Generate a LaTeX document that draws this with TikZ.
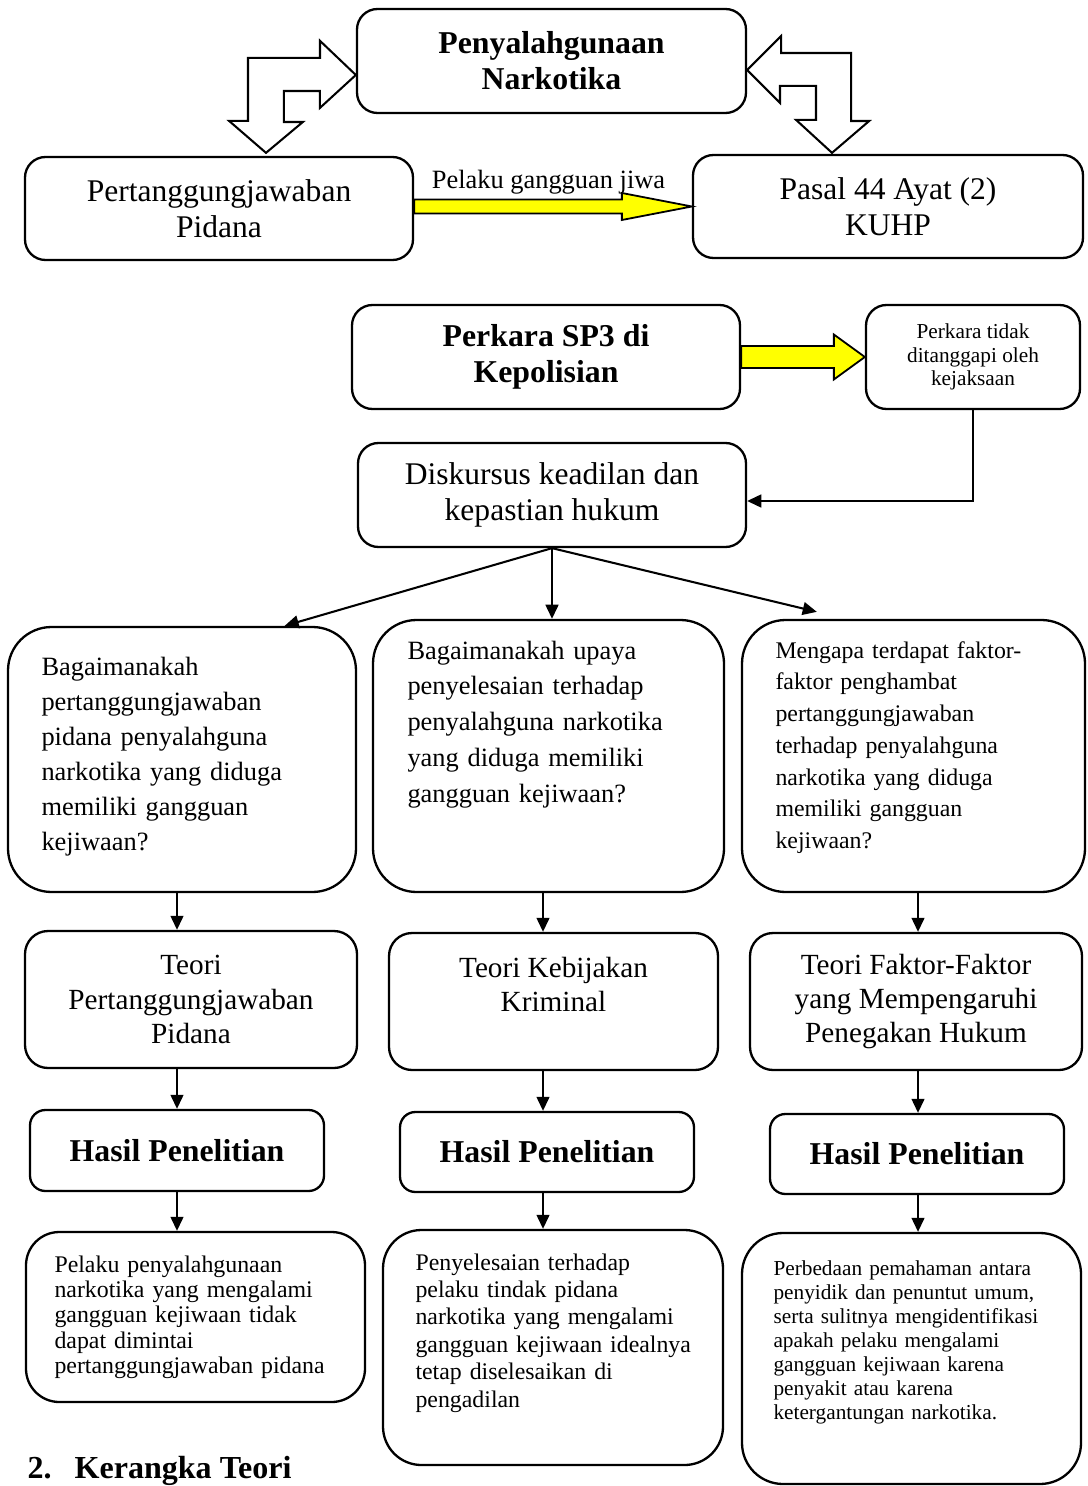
\documentclass[tikz,border=0pt]{standalone}
\usepackage{fontspec}
\setmainfont{Liberation Serif}
\usetikzlibrary{calc,arrows.meta}
\definecolor{highlight}{RGB}{255,255,0}
\tikzstyle{box}=[draw, line width=0.9pt, rounded corners=8pt, align=center, inner sep=0pt]
\tikzset{sz/.style 2 args={minimum width=#1*0.39pt, minimum height=#2*0.39pt}}
\tikzset{big/.style={font=\fontsize{12.3pt}{14pt}\selectfont}}
\tikzset{bigbold/.style={font=\fontsize{12.4pt}{14pt}\selectfont\bfseries}}
\tikzset{teori/.style={font=\fontsize{11.4pt}{13.3pt}\selectfont, rounded corners=9pt}}
\tikzset{hasil/.style={font=\fontsize{12.4pt}{14pt}\selectfont\bfseries, rounded corners=6pt}}
\tikzset{question/.style={rounded corners=17pt}}
\tikzset{txt/.style={anchor=base west, inner sep=0pt, align=left, text width=130pt}}
\tikzset{arr/.style={line width=0.8pt, -{Triangle[length=5.5pt,width=5pt]}}}
\tikzset{hollow/.style={draw, fill=white, line width=0.8pt, line join=miter}}
\tikzset{yellowarrow/.style={draw, fill=highlight, line width=0.7pt, line join=miter}}
% block arrow: from, to, half shaft, half head, head length
\newcommand{\blockarrow}[5]{%
  \draw[yellowarrow] ($(#1 |- #2)+(0,-#3)$) -- ($(#2)+(-#5,-#3)$) -- ($(#2)+(-#5,-#4)$)
    -- (#2) -- ($(#2)+(-#5,#4)$) -- ($(#2)+(-#5,#3)$) -- ($(#1 |- #2)+(0,#3)$) -- cycle;}

\begin{document}
\begin{tikzpicture}[x=0.39pt, y=-0.39pt]
  \path[use as bounding box, fill=white] (0,0) rectangle (1087,1486);

  %% Top part
  \node[box, bigbold, sz={389}{104}] (pn) at (551.5,61) {Penyalahgunaan\\Narkotika};
  \node[box, big, sz={388}{103}] (ptj) at (219,208.5) {Pertanggungjawaban\\Pidana};
  \node[box, big, sz={390}{103}] (pasal) at (888,206.5) {Pasal 44 Ayat (2)\\KUHP};

  \coordinate (la) at ($(pn.west)+(0,14)$);
  \coordinate (lb) at ($(ptj.north)+(47,-3)$);
  \draw[hollow] (la) -- ++(-36,33) -- ++(0,-17) -- ++(-36,0) -- ++(0,31) -- ++(19,0) -- (lb)
    -- ++(-37,-32) -- ++(19,0) -- ++(0,-63) -- ++(72,0) -- ++(0,-17) -- cycle;
  \coordinate (ra) at ($(pn.east)+(0,9)$);
  \coordinate (rb) at ($(pasal.north)+(-56,-1)$);
  \draw[hollow] (ra) -- ++(34,-34) -- ++(0,17) -- ++(70,0) -- ++(0,68) -- ++(18,0) -- (rb)
    -- ++(-36,-33) -- ++(20,0) -- ++(0,-34) -- ++(-36,0) -- ++(0,17) -- cycle;

  \blockarrow{ptj.east}{pasal.west}{7}{13.5}{70}
  \node[anchor=base, inner sep=0pt, font=\fontsize{10.3pt}{12pt}\selectfont] (jiwa) at (548.5,189) {Pelaku gangguan jiwa};

  %% Middle part
  \node[box, bigbold, sz={388}{104}] (sp3) at (546,357) {Perkara SP3 di\\Kepolisian};
  \node[box, font=\fontsize{8.3pt}{9.2pt}\selectfont, sz={214}{104}] (tidak) at (973,357) {Perkara tidak\\ditanggapi oleh\\kejaksaan};
  \node[box, big, sz={388}{104}] (disk) at (552,495) {Diskursus keadilan dan\\kepastian hukum};

  \blockarrow{sp3.east}{tidak.west}{11}{22.5}{31}
  \draw[arr] (tidak.south) |- ($(disk.east)+(0,6)$);

  %% Questions
  \node[box, question, sz={348}{265}] (q1) at (182,759.5) {};
  \node[box, question, sz={351}{272}] (q2) at (548.5,756) {};
  \node[box, question, sz={343}{272}] (q3) at (913.5,756) {};
  \node[txt, font=\fontsize{10.3pt}{13.7pt}\selectfont] (q1t) at (41,675) {Bagaimanakah\\pertanggungjawaban\\pidana penyalahguna\\narkotika yang diduga\\memiliki gangguan\\kejiwaan?};
  \node[txt, font=\fontsize{10.3pt}{14pt}\selectfont] (q2t) at (407,659) {Bagaimanakah upaya\\penyelesaian terhadap\\penyalahguna narkotika\\yang diduga memiliki\\gangguan kejiwaan?};
  \node[txt, font=\fontsize{9.3pt}{12.4pt}\selectfont] (q3t) at (775,658) {Mengapa terdapat faktor-\\faktor penghambat\\pertanggungjawaban\\terhadap penyalahguna\\narkotika yang diduga\\memiliki gangguan\\kejiwaan?};

  \draw[arr] (disk.south) -- ($(q1.north west)!0.793!(q1.north east)$);
  \draw[arr] (disk.south) -- (disk.south |- q2.north);
  \draw[arr] (disk.south) -- ($(q3.north west)!0.22!(q3.north east)+(0,-7)$);

  %% Theories
  \node[box, teori, sz={332}{137}] (t1) at (191,999.5) {Teori\\Pertanggungjawaban\\Pidana};
  \node[box, teori, sz={329}{137}] (t2) at (553.5,1001.5) {Teori Kebijakan\\Kriminal\\\mbox{}};
  \node[box, teori, sz={332}{137}] (t3) at (916,1001.5) {Teori Faktor-Faktor\\yang Mempengaruhi\\Penegakan Hukum};

  %% Results
  \node[box, hasil, sz={294}{81}] (h1) at (177,1150.5) {Hasil Penelitian};
  \node[box, hasil, sz={294}{80}] (h2) at (547,1152) {Hasil Penelitian};
  \node[box, hasil, sz={294}{80}] (h3) at (917,1154) {Hasil Penelitian};

  \node[box, rounded corners=13pt, sz={339}{170}] (r1) at (195.5,1317) {};
  \node[box, rounded corners=15pt, sz={340}{235}] (r2) at (553,1347.5) {};
  \node[box, rounded corners=16pt, sz={339}{251}] (r3) at (911.5,1358.5) {};
  \node[txt, font=\fontsize{9.3pt}{9.9pt}\selectfont] (r1t) at (54,1272) {Pelaku penyalahgunaan\\narkotika yang mengalami\\gangguan kejiwaan tidak\\dapat dimintai\\pertanggungjawaban pidana};
  \node[txt, font=\fontsize{9.3pt}{10.7pt}\selectfont] (r2t) at (415,1270) {Penyelesaian terhadap\\pelaku tindak pidana\\narkotika yang mengalami\\gangguan kejiwaan idealnya\\tetap diselesaikan di\\pengadilan};
  \node[txt, font=\fontsize{8.3pt}{9.4pt}\selectfont] (r3t) at (773,1275) {Perbedaan pemahaman antara\\penyidik dan penuntut umum,\\serta sulitnya mengidentifikasi\\apakah pelaku mengalami\\gangguan kejiwaan karena\\penyakit atau karena\\ketergantungan narkotika.};

  %% Column arrows
  \coordinate (c1) at (177,0);
  \coordinate (c2) at (543,0);
  \coordinate (c3) at (918,0);
  \draw[arr] (q1.south -| c1) -- (t1.north -| c1);
  \draw[arr] (q2.south -| c2) -- (t2.north -| c2);
  \draw[arr] (q3.south -| c3) -- (t3.north -| c3);
  \draw[arr] (t1.south -| c1) -- (h1.north -| c1);
  \draw[arr] (t2.south -| c2) -- (h2.north -| c2);
  \draw[arr] (t3.south -| c3) -- (h3.north -| c3);
  \draw[arr] (h1.south -| c1) -- (r1.north -| c1);
  \draw[arr] (h2.south -| c2) -- (r2.north -| c2);
  \draw[arr] (h3.south -| c3) -- (r3.north -| c3);

  %% Heading below
  \node[anchor=base west, inner sep=0pt, font=\fontsize{12.5pt}{14pt}\selectfont\bfseries] (kt) at (27,1478) {2.\hspace{9pt}Kerangka Teori};
\end{tikzpicture}
\end{document}
